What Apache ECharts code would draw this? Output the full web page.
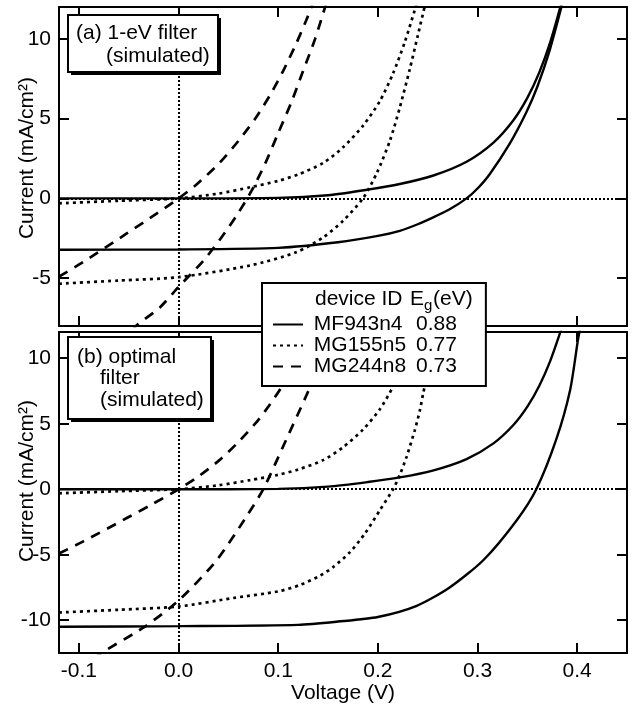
<!DOCTYPE html>
<html>
<head>
<meta charset="utf-8">
<script src="https://cdn.jsdelivr.net/npm/echarts@6/dist/echarts.min.js"></script>
<style>
  html, body { margin: 0; padding: 0; background: #fff; }
  #chart { width: 634px; height: 709px; }
</style>
</head>
<body>
<div id="chart"></div>
<script>
// tick positions
const xTicks = [-0.1, 0, 0.1, 0.2, 0.3, 0.4];
const yTicksA = [-5, 0, 5, 10];
const yTicksB = [-10, -5, 0, 5, 10];

// legend
const devices = ['MF943n4', 'MG155n5', 'MG244n8'];
const egValues = ['0.88', '0.77', '0.73'];

// dark curves (same in both panels) [V, mA/cm2]
const darkSolid = [[-0.12,0],[0,0],[0.1,0.03],[0.15,0.2],[0.19,0.55],[0.222,0.9],[0.255,1.42],[0.289,2.3],[0.316,3.5],[0.336,4.9],[0.35,6.3],[0.362,7.9],[0.373,9.8],[0.384,12.2]];
const darkDotted = [[-0.12,-0.31],[-0.06,-0.15],[0,0],[0.04,0.3],[0.072,0.7],[0.1,1.1],[0.12,1.5],[0.145,2.22],[0.165,3.2],[0.185,4.55],[0.202,6.1],[0.215,7.8],[0.227,9.8],[0.237,11.8],[0.241,12.6]];
const darkDashed = [[-0.12,-4.9],[-0.096,-4.0],[-0.052,-2.2],[-0.029,-1.25],[0,0],[0.018,0.87],[0.041,2.22],[0.06,3.6],[0.078,5.1],[0.092,6.5],[0.105,8.0],[0.118,9.7],[0.128,11.15],[0.135,12.3]];

// (a) 1-eV filter, illuminated
const solidA = [[-0.12,-3.22],[0,-3.2],[0.1,-3.1],[0.16,-2.75],[0.2,-2.35],[0.222,-2.03],[0.24,-1.62],[0.255,-1.2],[0.272,-0.68],[0.289,0],[0.3,0.62],[0.312,1.5],[0.332,3.4],[0.349,5.4],[0.36,7.0],[0.372,9.2],[0.385,12.2]];
const dottedA = [[-0.12,-5.35],[-0.06,-5.15],[0,-4.94],[0.072,-4.2],[0.118,-3.38],[0.145,-2.45],[0.165,-1.41],[0.185,0],[0.199,1.6],[0.212,3.6],[0.222,5.7],[0.232,8.1],[0.24,10.2],[0.248,12.3]];
const dashedA = [[-0.047,-8.3],[-0.042,-7.95],[-0.019,-6.85],[0,-5.55],[0.025,-3.9],[0.043,-2.45],[0.058,-1.1],[0.073,0.45],[0.087,2.2],[0.1,4.1],[0.113,6.0],[0.125,8.0],[0.137,10.0],[0.148,12.2]];

// (b) optimal filter, illuminated
const solidB = [[-0.12,-10.5],[0,-10.45],[0.12,-10.35],[0.16,-10.1],[0.2,-9.75],[0.239,-8.9],[0.272,-7.5],[0.306,-5.4],[0.339,-2.4],[0.359,0],[0.379,3.8],[0.393,7.6],[0.401,11.5],[0.404,12.6]];
const dottedB = [[-0.12,-9.41],[-0.06,-9.2],[0,-8.95],[0.055,-8.3],[0.1,-7.8],[0.122,-7.3],[0.142,-6.6],[0.155,-5.95],[0.172,-4.8],[0.187,-3.38],[0.202,-1.6],[0.2153,0],[0.222,1.1],[0.2287,2.45],[0.237,4.5],[0.242,5.97],[0.2453,7.25],[0.252,9.7],[0.258,12.6]];
const dashedB = [[-0.085,-13],[-0.079,-12.57],[-0.0355,-10.57],[0,-8.5],[0.038,-5.44],[0.068,-2.1],[0.085,0],[0.105,3.28],[0.128,7.12],[0.145,10.1],[0.157,12.6]];

const FONT = "'Liberation Sans', Arial, sans-serif";
const FS = 21;
const chart = echarts.init(document.getElementById('chart'));

const lineStyles = {
  MF943n4: { type: 'solid', width: 2.4 },
  MG155n5: { type: [3, 4], width: 2.7 },
  MG244n8: { type: [10, 8], width: 2.7 }
};

function xAx(grid, pos, showLabel) {
  return {
    type: 'value', gridIndex: grid, position: pos, min: -0.12, max: 0.45,
    axisLine: { onZero: false, lineStyle: { color: '#000', width: 2 } },
    axisTick: { inside: true, length: 10, customValues: xTicks, lineStyle: { color: '#000', width: 2 } },
    axisLabel: { show: showLabel, customValues: xTicks, margin: 8, color: '#000', fontSize: FS, fontFamily: FONT,
      formatter: v => v.toFixed(1) },
    splitLine: { show: false }
  };
}
function yAx(grid, pos, showLabel, min, max, ticks) {
  return {
    type: 'value', gridIndex: grid, position: pos, min: min, max: max,
    axisLine: { onZero: false, lineStyle: { color: '#000', width: 2 } },
    axisTick: { inside: true, length: 10, customValues: ticks, lineStyle: { color: '#000', width: 2 } },
    axisLabel: { show: showLabel, customValues: ticks, margin: 8, color: '#000', fontSize: FS, fontFamily: FONT },
    splitLine: { show: false }
  };
}

function curve(name, data, panel) {
  return {
    name: name, type: 'line', data: data,
    xAxisIndex: panel * 2, yAxisIndex: panel * 2,
    symbol: 'none', showSymbol: false,
    smooth: 0.25,
    lineStyle: Object.assign({ color: '#000' }, lineStyles[name]),
    itemStyle: { color: '#000' },
    silent: true
  };
}

function zeroLines(panel) {
  return {
    type: 'line', data: [], xAxisIndex: panel * 2, yAxisIndex: panel * 2, silent: true,
    markLine: {
      silent: true, symbol: ['none', 'none'], label: { show: false },
      lineStyle: { color: '#000', type: [2, 2], width: 2 },
      data: [{ xAxis: 0 }, { yAxis: 0 }]
    }
  };
}

const series = [
  zeroLines(0), zeroLines(1),
  curve('MF943n4', darkSolid, 0), curve('MF943n4', solidA, 0),
  curve('MG155n5', darkDotted, 0), curve('MG155n5', dottedA, 0),
  curve('MG244n8', darkDashed, 0), curve('MG244n8', dashedA, 0),
  curve('MF943n4', darkSolid, 1), curve('MF943n4', solidB, 1),
  curve('MG155n5', darkDotted, 1), curve('MG155n5', dottedB, 1),
  curve('MG244n8', darkDashed, 1), curve('MG244n8', dashedB, 1)
];

function txt(x, y, text, size) {
  return {
    type: 'text', x: x, y: y, z: 100,
    style: { text: text, font: (size || FS) + 'px ' + FONT, fill: '#000', textVerticalAlign: 'middle' }
  };
}
function box(x, y, w, h) {
  return [
    { type: 'rect', z: 99, shape: { x: x + 3, y: y + 3, width: w, height: h }, style: { fill: '#000' } },
    { type: 'rect', z: 99, shape: { x: x, y: y, width: w, height: h }, style: { fill: '#fff', stroke: '#000', lineWidth: 2 } }
  ];
}
function vtext(x, y, text) {
  return { type: 'text', x: x, y: y, rotation: Math.PI / 2, z: 100,
    style: { text: text, font: FS + 'px ' + FONT, fill: '#000', textAlign: 'center', textVerticalAlign: 'middle' } };
}

const graphics = [].concat(
  box(68, 15, 150, 57),
  [txt(76, 33, '(a) 1-eV filter'), txt(106, 56, '(simulated)')],
  box(68, 337, 143, 82),
  [txt(77, 357, '(b) optimal'), txt(100, 378.5, 'filter'), txt(100, 400, '(simulated)')],
  [
    vtext(27, 158, 'Current (mA/cm²)'),
    vtext(27, 481, 'Current (mA/cm²)'),
    { type: 'text', x: 343, y: 693, z: 100,
      style: { text: 'Voltage (V)', font: FS + 'px ' + FONT, fill: '#000', textAlign: 'center', textVerticalAlign: 'middle' } },
    txt(315, 299, 'device ID'),
    txt(410, 299, 'E'),
    txt(424, 306, 'g', 15),
    txt(433, 299, '(eV)')
  ]
);

chart.setOption({
  animation: false,
  backgroundColor: '#fff',
  grid: [
    { left: 59, top: 7, width: 568, height: 319 },
    { left: 59, top: 332, width: 568, height: 321 }
  ],
  xAxis: [xAx(0, 'bottom', false), xAx(0, 'top', false), xAx(1, 'bottom', true), xAx(1, 'top', false)],
  yAxis: [yAx(0, 'left', true, -8, 12, yTicksA), yAx(0, 'right', false, -8, 12, yTicksA),
          yAx(1, 'left', true, -12.5, 12, yTicksB), yAx(1, 'right', false, -12.5, 12, yTicksB)],
  legend: {
    data: devices, orient: 'vertical', left: 262, top: 283,
    padding: [31, 29, 9, 10], itemGap: 0, itemWidth: 30, itemHeight: 10,
    backgroundColor: '#fff', borderColor: '#000', borderWidth: 2,
    selectedMode: false, itemStyle: { opacity: 0 },
    formatter: name => '{n| ' + name + '}{v|' + egValues[devices.indexOf(name)] + '}',
    textStyle: {
      color: '#000', fontSize: FS, fontFamily: FONT, lineHeight: 21,
      rich: {
        n: { width: 108, fontSize: FS, fontFamily: FONT, color: '#000', lineHeight: 21 },
        v: { fontSize: FS, fontFamily: FONT, color: '#000', lineHeight: 21 }
      }
    }
  },
  graphic: graphics,
  series: series
});
</script>
</body>
</html>
